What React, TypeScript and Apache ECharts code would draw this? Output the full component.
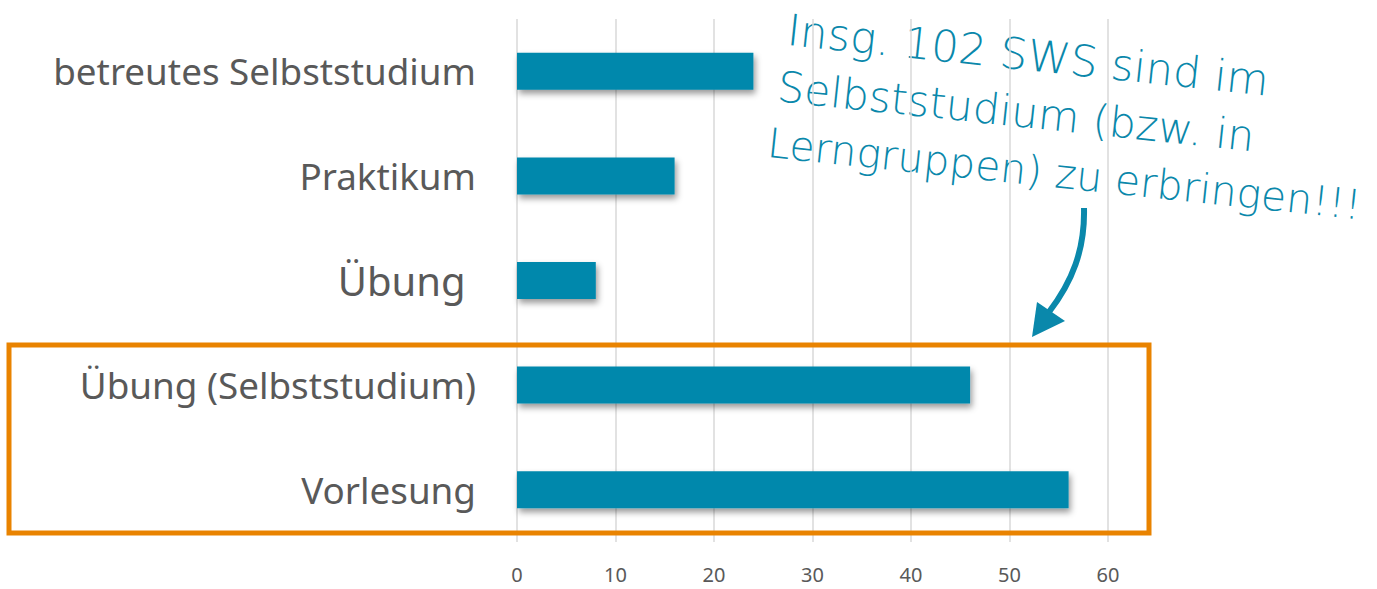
import React, { useEffect, useRef } from "react";
import * as echarts from "echarts";

const categories = [
  "betreutes Selbststudium",
  "Praktikum",
  "Übung ",
  "Übung (Selbststudium)",
  "Vorlesung",
];
const values = [24, 16, 8, 46, 56];
const labelSizes = [36.8, 36.8, 40, 36.8, 36.8];
const xTicks = { min: 0, max: 60, interval: 10 };
const noteLines = [
  "Insg. 102 SWS sind im",
  "Selbststudium (bzw. in",
  "Lerngruppen) zu erbringen!!!",
];

export default function App() {
  const ref = useRef<HTMLDivElement>(null);
  useEffect(() => {
    document.body.style.margin = "0";
    const chart = echarts.init(ref.current!, null, { renderer: "svg" });
    const teal = "#0A88AB";
    const noteSizes = [43.5, 42.5, 41];
    chart.setOption({
      animation: false,
      backgroundColor: "#ffffff",
      grid: { left: 517, right: 269, top: 19, bottom: 47, containLabel: false },
      xAxis: {
        type: "value",
        min: xTicks.min,
        max: xTicks.max,
        interval: xTicks.interval,
        axisLine: { show: false },
        axisTick: { show: false },
        splitLine: { show: true, lineStyle: { color: "#D9D9D9", width: 1.5 } },
        axisLabel: {
          color: "#595959",
          fontSize: 20,
          fontFamily: "Noto Sans",
          margin: 22,
        },
      },
      yAxis: {
        type: "category",
        inverse: true,
        data: categories.map((c, i) => ({
          value: c,
          textStyle: { fontSize: labelSizes[i] },
        })),
        axisLine: { show: false },
        axisTick: { show: false },
        axisLabel: {
          color: "#595959",
          fontFamily: "Noto Sans",
          fontSize: 36.8,
          margin: 41,
        },
      },
      series: [
        {
          type: "bar",
          data: values,
          barWidth: 37,
          itemStyle: {
            color: "#0388AC",
            shadowColor: "rgba(0,0,0,0.4)",
            shadowBlur: 6,
            shadowOffsetX: 2,
            shadowOffsetY: 4,
          },
        },
      ],
      graphic: [
        {
          type: "rect",
          z: 100,
          shape: { x: 9, y: 345, width: 1140, height: 188 },
          style: { fill: "none", stroke: "#E98300", lineWidth: 5 },
        },
        {
          type: "group",
          x: 790,
          y: 8,
          rotation: -0.105,
          z: 100,
          children: noteLines.map((t, i) => ({
            type: "text",
            x: i === 0 ? 0 : i === 1 ? -4 : -8,
            y: i * 58,
            style: {
              text: t,
              fontSize: noteSizes[i],
              fontFamily: "DejaVu Sans",
              fontWeight: 200,
              fill: teal,
              textVerticalAlign: "top",
            },
          })),
        },
        {
          type: "bezierCurve",
          z: 100,
          shape: {
            x1: 1084,
            y1: 208,
            cpx1: 1085,
            cpy1: 250,
            cpx2: 1072,
            cpy2: 282,
            x2: 1049,
            y2: 312,
          },
          style: { stroke: teal, lineWidth: 6, fill: "none" },
        },
        {
          type: "polygon",
          z: 100,
          shape: {
            points: [
              [1032, 337],
              [1037, 302],
              [1065, 321],
            ],
          },
          style: { fill: teal },
        },
      ],
    });
    return () => chart.dispose();
  }, []);
  return <div ref={ref} style={{ width: 1377, height: 589 }} />;
}
